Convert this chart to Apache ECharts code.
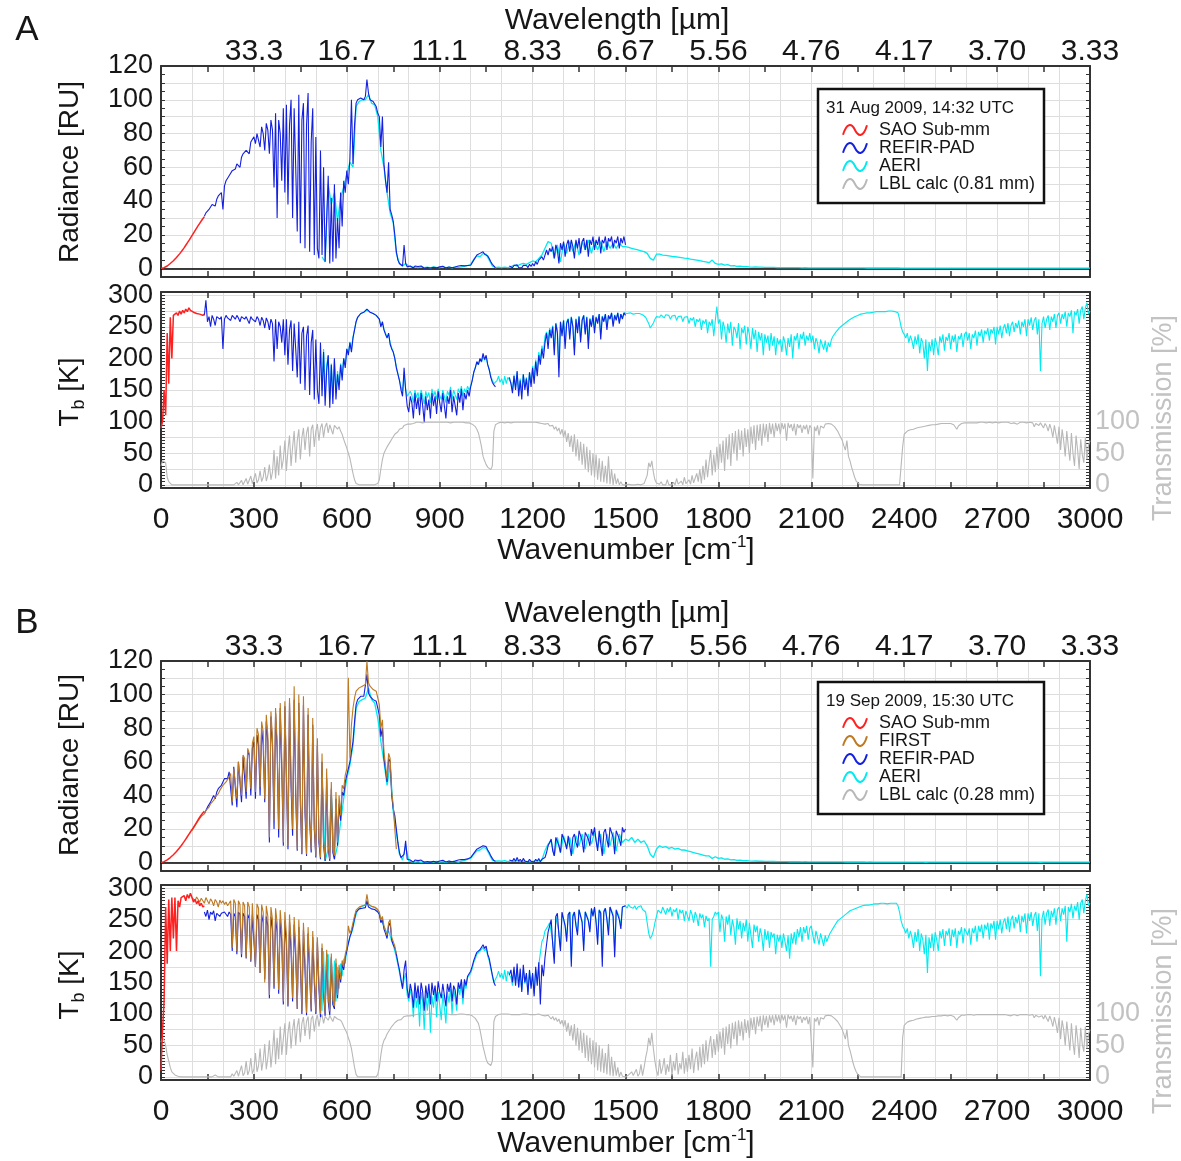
<!DOCTYPE html>
<html>
<head>
<meta charset="utf-8">
<title>Far-infrared spectra</title>
<script src="https://cdn.jsdelivr.net/npm/echarts@6/dist/echarts.min.js"></script>
<style>
  html, body { margin: 0; padding: 0; background: #fff; }
  #chart { width: 1181px; height: 1161px; }
</style>
</head>
<body>
<div id="chart"></div>
<script>
// ---------------------------------------------------------------------------
// Axis ticks
// ---------------------------------------------------------------------------
const wavenumberTicks = [0, 300, 600, 900, 1200, 1500, 1800, 2100, 2400, 2700, 3000];
const wavelengthTicks = ['33.3', '16.7', '11.1', '8.33', '6.67', '5.56', '4.76', '4.17', '3.70', '3.33']; // at 300..3000 cm-1
const radianceTicks = [0, 20, 40, 60, 80, 100, 120];
const tbTicks = [0, 50, 100, 150, 200, 250, 300];
const transTicks = [0, 50, 100];

// Sampling of the spectra (cm-1): first wavenumber and spacing of each array
const SAO_START = 0, SAO_STEP = 5;
const FIRST_START = 100, FIRST_STEP = 5;
const REFIR_START = 140, REFIR_STEP = 5;
const AERI_START = 520, AERI_TB_STEP = 5, AERI_RAD_STEP = 10;
const LBL_START = 0, LBL_STEP = 5;

// ---------------------------------------------------------------------------
// A: 31 Aug 2009, 14:32 UTC
// ---------------------------------------------------------------------------
const saoRadA = [0, 0.2, 0.5, 1, 1.5, 2.2, 3, 3.8, 4.6, 5.5, 6.5, 7.6, 8.7, 9.9, 11.1, 12.4, 13.8, 15.2, 16.6, 18, 19.5, 21, 22.5, 24, 25.4, 26.8, 28.2, 29.5, 30.8];
const refirRadA = [
  31, 33, 32, 35, 34, 38, 38, 37, 41, 43, 42, 45,
  35, 49, 52, 53, 55, 55, 58, 59, 59, 62, 62, 60, 66, 68, 67, 70, 71, 68, 75, 74,
  78, 74, 80, 79, 72, 84, 80, 70, 86, 82, 68, 88, 82, 48, 92, 30, 88, 80, 52, 95,
  45, 97, 38, 85, 100, 30, 95, 60, 22, 103, 15, 88, 98, 12, 85, 104, 10, 75, 95, 8,
  78, 12, 6, 70, 8, 60, 4, 30, 55, 3, 42, 4, 50, 6, 30, 12, 45, 25, 52, 45,
  58, 50, 65, 100, 62, 85, 98, 100, 100, 101, 101, 100, 102, 112, 104, 100, 99, 99, 98, 96,
  92, 90, 72, 90, 62, 52, 45, 63, 35, 32, 28, 20, 10, 5, 3, 2, 1.5, 14, 3, 1,
  1, 1.5, 1, 0.3, 1.5, 0.6, 1.2, 0.4, 1.5, 0.8, 0.2, 1.2, 0.6, 1, 0.3, 1.4, 0.8, 1.2, 0.4, 1.5,
  1, 0.5, 1.4, 0.8, 0.3, 1.2, 0.9, 1.6, 0.5, 1.2, 0.9, 0.5, 1.5, 1, 1.8, 0.8, 1.6, 1.3, 1.8, 1.6,
  2, 3, 5, 6, 8, 7, 9, 8, 10, 8.5, 9.5, 7.5, 6, 4, 2.5, 1.5, 0.5, null, null, null,
  null, null, null, null, null, 1.5, 1, 0.5, 1.8, 0.8, 2.2, 0.6, 1.5, 0.4, 2, 1, 1.8, 0.6, 2.5, 1.2,
  3, 1.5, 4, 2.5, 5, 4, 7, 5, 8, 11, 8, 12, 10, 13, 6, 14, 11, 3, 15, 11,
  16, 7, 14, 17, 10, 17, 13, 6, 17, 12, 18, 9, 16, 18, 11, 17, 7, 17, 14, 19,
  11, 17, 14, 19, 9, 17, 15, 19, 11, 18, 16, 19, 12, 17, 15, 19, 12, 18, 15, 19,
  14
];
const aeriRadA = [
  7, 4, 50, 38, 45, 28, 42, 48,
  56, 63, 60, 96, 99, 100, 100, 103, 98, 97,
  90, 70, 60, 45, 33, 27, 9, 3, 1.5, 3,
  1.5, 0.8, 1, 0.5, 1, 0.6, 0.9, 0.4, 1, 0.7,
  0.5, 1, 0.6, 0.9, 0.4, 1, 0.7, 1, 1.5, 1.8,
  2.5, 5.5, 7.5, 7, 9, 8.5, 5, 1.5, 0.5, 0.8,
  0.5, 0.8, 0.6, 1, 2, 1.5, 2.5, 3, 2.5, 3.5,
  4.5, 4, 6, 8, 12, 16, 15, 6, 14, 4,
  15, 9, 16, 10, 16, 8, 16, 11, 17, 9,
  16, 11, 16, 10, 16, 12, 15, 12, 15, 13,
  13, 12.5, 12, 11.5, 11, 10.5, 10, 9, 6, 5,
  8.5, 8.5, 8, 7.8, 7.5, 7.2, 7, 6.8, 6.5, 6.2,
  6, 5.6, 5.3, 5, 4.7, 4.3, 4, 3.5, 5, 3,
  2.5, 2.8, 2, 2.3, 1.6, 1.8, 1.3, 1.5, 1.1, 1.2,
  1, 0.9, 0.95, 0.8, 0.85, 0.7, 0.75, 0.65, 0.7, 0.6,
  0.6, 0.55, 0.6, 0.5, 0.55, 0.5, 0.5, 0.45, 0.5, 0.45,
  0.45, 0.42, 0.45, 0.4, 0.42, 0.4, 0.4, 0.38, 0.4, 0.38,
  0.38, 0.36, 0.38, 0.36, 0.35, 0.36, 0.35, 0.35, 0.34, 0.35,
  0.34, 0.34, 0.33, 0.34, 0.33, 0.33, 0.33, 0.32, 0.33, 0.3,
  0.28, 0.28, 0.27, 0.28, 0.26, 0.28, 0.26, 0.24, 0.27, 0.26,
  0.27, 0.26, 0.27, 0.25, 0.27, 0.26, 0.27, 0.26, 0.27, 0.26,
  0.27, 0.26, 0.27, 0.25, 0.27, 0.26, 0.27, 0.26, 0.27, 0.26,
  0.27, 0.26, 0.27, 0.26, 0.27, 0.26, 0.27, 0.26, 0.27, 0.26,
  0.27, 0.26, 0.27, 0.26, 0.22, 0.27, 0.26, 0.27, 0.26, 0.27,
  0.26, 0.27, 0.26, 0.27, 0.25, 0.27, 0.26, 0.27, 0.26, 0.28,
  0.27
];
const saoTbA = [90, 100, 150, 110, 240, 160, 265, 200, 268, 270, 272, 268, 275, 270, 276, 272, 278, 274, 280, 276, 278, 273, 275, 271, 274, 270, 272, 268, 270];
const refirTbA = [
  268, 292, 258, 266, 250, 268, 262, 252, 266, 268, 262, 266,
  215, 262, 268, 264, 266, 260, 268, 265, 262, 268, 264, 258, 266, 268, 262, 266, 264, 255, 266, 262,
  265, 258, 266, 262, 252, 265, 260, 248, 264, 258, 245, 262, 255, 195, 262, 215, 258, 250, 225, 262,
  205, 262, 190, 245, 260, 180, 255, 215, 170, 258, 160, 240, 250, 150, 235, 252, 142, 225, 245, 135,
  230, 150, 128, 225, 140, 210, 125, 180, 205, 122, 190, 128, 200, 135, 175, 150, 190, 165, 200, 185,
  215, 205, 225, 210, 232, 245, 258, 265, 268, 271, 272, 273, 274, 278, 276, 273, 272, 271, 270, 268,
  265, 262, 250, 258, 245, 238, 232, 240, 222, 215, 210, 200, 185, 175, 165, 150, 140, 185, 150, 125,
  115, 140, 130, 105, 145, 120, 138, 110, 145, 125, 100, 140, 118, 135, 105, 145, 125, 140, 112, 148,
  130, 115, 145, 125, 105, 140, 128, 150, 115, 140, 125, 110, 145, 130, 152, 118, 145, 135, 150, 140,
  155, 165, 178, 185, 195, 190, 200, 195, 208, 198, 205, 190, 182, 170, 162, 158, 155, null, null, null,
  null, null, null, null, null, 170, 160, 145, 172, 150, 180, 140, 165, 135, 175, 150, 168, 140, 178, 155,
  185, 160, 195, 172, 205, 190, 215, 200, 225, 240, 215, 245, 232, 250, 205, 255, 240, 170, 258, 235,
  260, 215, 255, 262, 230, 265, 250, 205, 262, 240, 266, 225, 260, 268, 238, 265, 215, 262, 250, 268,
  240, 265, 255, 270, 230, 266, 258, 270, 245, 268, 262, 272, 250, 268, 260, 272, 255, 270, 262, 272,
  268
];
const aeriTbA = [
  150, 215, 140, 190, 205, 135, 192, 140, 198, 145, 180, 160, 192, 175, 200, 190,
  215, 208, 226, 215, 234, 246, 258, 265, 268, 271, 272, 273, 273, 276, 275, 273, 272, 271, 270, 268,
  265, 262, 252, 256, 246, 240, 234, 238, 225, 217, 210, 200, 187, 176, 166, 155, 148, 175, 152, 140,
  138, 148, 142, 130, 150, 138, 146, 132, 150, 140, 128, 148, 138, 146, 130, 152, 140, 148, 135, 152,
  142, 135, 150, 140, 130, 148, 142, 155, 135, 150, 142, 135, 152, 145, 156, 140, 152, 146, 156, 150,
  157, 166, 178, 186, 194, 190, 198, 194, 204, 197, 202, 190, 182, 172, 165, 160, 158, 165, 172, 162,
  168, 158, 172, 160, 170, 168, 162, 150, 174, 155, 178, 148, 168, 145, 175, 155, 170, 150, 178, 162,
  188, 168, 198, 180, 210, 198, 220, 210, 235, 242, 228, 248, 240, 252, 215, 256, 245, 185, 258, 240,
  261, 225, 258, 263, 238, 266, 252, 215, 263, 245, 267, 232, 262, 268, 242, 266, 225, 264, 252, 268,
  248, 266, 258, 270, 238, 267, 260, 270, 250, 268, 263, 272, 255, 269, 262, 272, 258, 270, 264, 272,
  270, 271, 270, 272, 271, 270, 272, 271, 270, 271, 270, 269, 268, 265, 260, 255, 248, 250, 256, 262,
  266, 268, 265, 269, 267, 264, 269, 266, 268, 262, 267, 265, 268, 260, 266, 264, 267, 258, 265, 263,
  266, 255, 264, 260, 265, 250, 262, 258, 263, 245, 260, 255, 262, 240, 258, 252, 262, 235, 260, 282,
  255, 262, 230, 258, 248, 225, 255, 240, 258, 220, 250, 245, 232, 256, 215, 248, 240, 252, 222, 250,
  238, 215, 248, 230, 245, 210, 242, 228, 240, 205, 238, 225, 236, 212, 240, 220, 235, 205, 232, 222,
  230, 210, 235, 225, 205, 232, 218, 238, 200, 235, 228, 240, 215, 238, 230, 242, 220, 236, 228, 240,
  225, 236, 215, 232, 225, 208, 230, 222, 214, 228, 210, 225, 218, 230, 235, 238, 242, 245, 248, 250,
  252, 255, 256, 258, 260, 262, 263, 265, 266, 267, 268, 269, 270, 270, 271, 271, 272, 272, 272, 273,
  273, 273, 274, 273, 274, 274, 274, 275, 274, 275, 275, 274, 275, 276, 274, 275, 272, 262, 250, 242,
  238, 232, 240, 225, 236, 228, 215, 235, 222, 238, 208, 232, 225, 200, 230, 180, 226, 212, 230, 205,
  232, 222, 205, 235, 225, 238, 212, 234, 228, 240, 215, 236, 226, 238, 210, 235, 230, 240, 218, 238,
  242, 228, 240, 215, 238, 232, 244, 220, 242, 235, 246, 225, 244, 238, 248, 228, 246, 240, 250, 222,
  250, 238, 252, 232, 248, 254, 240, 256, 235, 252, 258, 242, 256, 248, 260, 238, 258, 250, 262, 235,
  262, 252, 265, 245, 260, 265, 238, 262, 180, 255, 266, 248, 262, 268, 245, 266, 258, 270, 248, 268,
  272, 255, 270, 262, 274, 250, 272, 266, 276, 240, 274, 268, 278, 255, 276, 282, 262, 280, 288, 270,
  275
];
const lblTransA = [
  30, 38, 40, 35, 12, 5, 2, 0, 0, 0, 0, 0, 0, 0, 0, 0, 0, 0, 0, 0,
  0, 0, 0, 0, 0, 0, 0, 0, 0, 0, 0, 0, 0, 0, 0, 0, 0, 0, 0, 0,
  0, 0, 0, 0, 0, 0, 2, 0, 0, 4, 0, 1, 7, 0, 2, 10, 1, 4, 14, 2,
  5, 18, 3, 8, 22, 5, 12, 28, 6, 15, 32, 8, 20, 55, 10, 45, 15, 62, 25, 40,
  70, 22, 55, 78, 30, 60, 85, 35, 70, 88, 40, 75, 90, 55, 82, 92, 45, 88, 95, 60,
  85, 96, 70, 90, 97, 75, 92, 98, 82, 95, 97, 80, 94, 96, 88, 92, 85, 80, 72, 65,
  58, 50, 42, 30, 18, 8, 2, 0, 0, 0, 0, 0, 0, 0, 0, 0, 0, 0, 0, 0,
  2, 8, 25, 40, 50, 55, 60, 64, 68, 72, 75, 80, 78, 84, 88, 86, 90, 94, 92, 96,
  97, 96, 98, 97, 98, 99, 98, 99, 99, 98, 99, 99, 98, 99, 99, 99, 98, 99, 99, 99,
  99, 99, 98, 99, 99, 99, 99, 98, 99, 99, 99, 99, 98, 99, 99, 99, 99, 98, 99, 98,
  97, 96, 94, 92, 88, 82, 72, 60, 45, 38, 32, 28, 26, 24, 30, 85, 95, 97, 98, 99,
  99, 99, 98, 99, 99, 99, 98, 99, 99, 99, 99, 98, 99, 99, 99, 98, 99, 99, 99, 99,
  99, 98, 99, 99, 98, 99, 97, 98, 96, 95, 97, 93, 90, 94, 88, 92, 85, 90, 80, 88,
  75, 86, 68, 82, 60, 78, 52, 80, 45, 72, 38, 68, 32, 65, 25, 60, 20, 55, 15, 50,
  12, 48, 8, 42, 5, 38, 4, 30, 2, 45, 1, 25, 0, 18, 1, 10, 0, 5, 0, 2,
  0, 0, 1, 0, 0, 2, 0, 0, 1, 0, 0, 0, 2, 5, 15, 35, 28, 38, 20, 8,
  3, 0, 1, 5, 0, 2, 0, 8, 0, 1, 0, 4, 0, 10, 1, 0, 6, 0, 12, 2,
  0, 8, 1, 15, 3, 0, 18, 5, 25, 2, 30, 8, 40, 12, 35, 55, 15, 48, 20, 60,
  25, 65, 35, 70, 22, 75, 40, 80, 30, 82, 50, 85, 38, 88, 55, 86, 45, 90, 60, 88,
  50, 92, 65, 94, 55, 95, 70, 96, 62, 97, 75, 96, 68, 98, 80, 97, 75, 98, 85, 97,
  80, 98, 88, 97, 70, 98, 90, 96, 85, 97, 78, 96, 90, 95, 82, 94, 88, 95, 80, 94,
  90, 10, 92, 85, 94, 78, 93, 95, 90, 96, 94, 97, 95, 96, 94, 92, 90, 85, 80, 75,
  70, 62, 55, 70, 45, 38, 28, 20, 12, 6, 3, 1, 0, 0, 0, 0, 0, 0, 0, 0,
  0, 0, 0, 0, 0, 0, 0, 0, 0, 0, 0, 0, 0, 0, 0, 0, 0, 0, 0, 60,
  80, 83, 85, 86, 87, 88, 88, 89, 90, 90, 91, 92, 92, 93, 93, 94, 94, 94, 95, 95,
  95, 96, 96, 96, 97, 97, 97, 97, 97, 96, 97, 96, 95, 92, 88, 93, 96, 97, 97, 98,
  98, 98, 98, 98, 99, 98, 99, 98, 99, 99, 98, 99, 99, 98, 99, 99, 99, 98, 99, 99,
  99, 98, 99, 99, 96, 99, 98, 99, 99, 97, 99, 98, 99, 96, 98, 99, 98, 99, 97, 98,
  98, 99, 96, 98, 92, 97, 98, 94, 98, 96, 90, 97, 93, 85, 96, 88, 75, 94, 80, 65,
  92, 55, 88, 70, 45, 85, 60, 38, 82, 50, 30, 78, 55, 25, 72, 48, 35, 75, 40, 62,
  70
];

// ---------------------------------------------------------------------------
// B: 19 Sep 2009, 15:30 UTC
// ---------------------------------------------------------------------------
const saoRadB = [0, 0.2, 0.6, 1, 1.6, 2.3, 3, 3.8, 4.7, 5.6, 6.6, 7.7, 8.8, 10, 11.3, 12.6, 14, 15.4, 16.8, 18.2, 19.6, 21, 22.5, 24, 25.5, 27, 28.3, 29.5, 30.5];
const firstRadB = [
  19, 20.5, 22, 23.5, 25, 26, 27.5, 28.5, 29, 31, 32, 33, 35, 36, 37, 39, 40, 41, 43, 44,
  46, 47, 48, 49, 51, 53, 36, 56, 55, 38, 60, 59, 40, 64, 62, 42, 68, 65, 44, 71,
  75, 42, 80, 76, 45, 84, 78, 38, 88, 76, 15, 90, 74, 25, 92, 72, 20, 95, 62, 12,
  96, 55, 10, 98, 50, 20, 105, 45, 8, 100, 40, 6, 99, 35, 5, 92, 28, 8, 86, 22,
  4, 74, 15, 3, 65, 12, 2, 56, 10, 2, 48, 8, 4, 42, 12, 40, 28, 46, 44, 52,
  56, 110, 62, 82, 92, 98, 102, 103, 104, 104, 105, 105, 106, 120, 107, 105, 104, 103, 103, 102,
  98, 94, 80, 85, 66, 58, 50, 65, 62, 42, 34, 20, 8
];
const refirRadB = [
  29, 31, 33, 34, 36, 38, 40, 38, 42, 44, 43, 46,
  48, 50, 51, 50, 54, 55, 34, 57, 56, 33, 60, 60, 36, 63, 62, 38, 66, 64, 40, 68,
  72, 38, 76, 70, 40, 80, 70, 36, 84, 72, 12, 87, 70, 20, 89, 68, 15, 92, 55, 10,
  93, 50, 8, 95, 45, 16, 97, 40, 7, 95, 35, 5, 94, 30, 4, 88, 25, 6, 82, 20,
  3, 70, 12, 2, 60, 10, 1, 50, 8, 1, 44, 6, 2, 38, 10, 35, 25, 42, 40, 48,
  52, 56, 60, 66, 72, 84, 94, 97, 98, 99, 99, 99, 100, 112, 101, 99, 98, 97, 97, 96,
  92, 88, 75, 80, 62, 55, 48, 62, 60, 40, 32, 28, 20, 12, 6, 3, 2, 5, 13, 2,
  1, 1.5, 1, 0.3, 1.5, 0.6, 1.2, 0.4, 1.5, 0.8, 0.2, 1.2, 0.6, 1, 0.3, 1.4, 0.8, 1.2, 0.4, 1.5,
  1, 0.5, 1.4, 0.8, 0.3, 1.2, 0.9, 1.6, 0.5, 1.2, 0.9, 0.5, 1.5, 1, 1.8, 0.8, 1.8, 1.5, 2.2, 2.5,
  3, 4, 5.5, 6.5, 8, 7.5, 9, 8.5, 10, 9, 9.5, 7.5, 6, 4, 2.5, 1.2, 0.8, null, null, null,
  null, null, null, null, null, 1.5, 2, 1, 2.5, 0.8, 3, 0.8, 2, 0.5, 2.5, 1, 1.5, 0.4, 2, 0.8,
  1.5, 0.4, 2, 0.8, 2.5, 0.3, 2, 1.2, 3, 6, 10, 12, 14, 7, 4, 15, 16, 10, 6, 17,
  18, 12, 8, 16, 17, 4, 15, 17, 12, 9, 19, 20, 13, 6, 18, 19, 14, 10, 20, 16,
  21, 13, 7, 19, 18, 4, 18, 20, 14, 9, 21, 22, 15, 5, 19, 20, 14, 10, 21, 18,
  20
];
const aeriRadB = [
  55, 1, 8, 40, 2, 10, 24, 38,
  50, 58, 70, 92, 96, 97, 98, 104, 97, 95,
  86, 72, 60, 46, 58, 30, 18, 5, 1.5, 10,
  1, 0.5, 0.3, 0.6, 0.2, 0.5, 0.1, 0.6, 0.3, 0.7,
  0.3, 0.6, 0.2, 0.7, 0.4, 0.8, 0.3, 0.9, 1.2, 2,
  2.5, 5, 7, 7.5, 9, 8.5, 5, 1.5, 0.8, 1,
  0.8, 1.2, 0.6, 1, 0.8, 1.2, 0.6, 1, 0.5, 0.8,
  0.6, 1.2, 1, 1.5, 7, 11, 13, 4, 15, 6,
  16, 9, 15, 5, 16, 10, 17, 8, 17, 11,
  18, 9, 17, 5, 17, 10, 18, 7, 17, 12,
  14, 13, 15, 12, 14, 12, 13, 10, 5, 3,
  8, 10, 9, 9.5, 8.5, 9, 8, 8.5, 7.5, 7.5,
  7, 6.5, 6, 5.5, 5, 4.5, 4, 4, 2.5, 3.5,
  2.5, 2.8, 2, 2.2, 1.6, 1.8, 1.3, 1.5, 1.1, 1.2,
  1, 0.9, 0.95, 0.8, 0.85, 0.7, 0.75, 0.65, 0.7, 0.6,
  0.6, 0.55, 0.6, 0.5, 0.55, 0.5, 0.5, 0.45, 0.5, 0.45,
  0.45, 0.42, 0.45, 0.4, 0.42, 0.4, 0.4, 0.38, 0.4, 0.38,
  0.38, 0.36, 0.38, 0.36, 0.35, 0.36, 0.35, 0.35, 0.34, 0.35,
  0.34, 0.34, 0.33, 0.34, 0.33, 0.33, 0.33, 0.32, 0.33, 0.3,
  0.28, 0.28, 0.27, 0.28, 0.25, 0.28, 0.25, 0.22, 0.27, 0.25,
  0.27, 0.26, 0.27, 0.25, 0.27, 0.26, 0.27, 0.26, 0.27, 0.26,
  0.27, 0.26, 0.27, 0.25, 0.27, 0.26, 0.27, 0.26, 0.27, 0.26,
  0.27, 0.26, 0.27, 0.26, 0.27, 0.26, 0.27, 0.26, 0.27, 0.26,
  0.27, 0.26, 0.27, 0.26, 0.21, 0.27, 0.26, 0.27, 0.26, 0.27,
  0.26, 0.27, 0.26, 0.27, 0.24, 0.27, 0.26, 0.27, 0.26, 0.28,
  0.27
];
const saoTbB = [10, 75, 120, 270, 180, 282, 200, 285, 220, 285, 200, 280, 270, 285, 282, 288, 280, 290, 284, 292, 285, 278, 282, 275, 280, 272, 276, 270, 272];
const firstTbB = [
  285, 282, 280, 286, 283, 278, 284, 281, 276, 285, 280, 275, 283, 279, 272, 282, 278, 270, 281, 276,
  280, 274, 278, 272, 276, 280, 205, 282, 276, 200, 280, 274, 195, 278, 272, 190, 278, 270, 185, 276,
  278, 175, 275, 268, 165, 274, 262, 150, 272, 255, 130, 270, 250, 145, 268, 245, 138, 265, 232, 120,
  262, 225, 115, 258, 215, 125, 254, 205, 108, 250, 195, 105, 245, 185, 102, 238, 175, 108, 232, 165,
  103, 222, 150, 100, 212, 140, 102, 202, 130, 104, 196, 122, 112, 188, 130, 178, 155, 185, 175, 195,
  205, 240, 228, 234, 245, 256, 265, 268, 270, 271, 272, 272, 273, 290, 275, 272, 271, 270, 270, 268,
  266, 262, 250, 255, 240, 232, 225, 245, 250, 222, 215, 208, 195
];
const refirTbB = [
  262, 255, 265, 250, 262, 258, 264, 248, 260, 262, 255, 260,
  258, 262, 260, 255, 262, 258, 200, 260, 255, 195, 262, 258, 190, 260, 255, 188, 258, 252, 183, 258,
  260, 175, 258, 250, 165, 258, 245, 155, 255, 240, 125, 255, 235, 140, 252, 230, 132, 250, 215, 115,
  248, 210, 112, 246, 200, 120, 242, 190, 108, 238, 180, 100, 234, 170, 98, 228, 160, 104, 222, 150,
  100, 214, 140, 95, 205, 130, 97, 196, 120, 98, 190, 115, 108, 180, 125, 170, 150, 180, 170, 190,
  200, 212, 222, 230, 240, 252, 262, 265, 267, 268, 268, 268, 269, 280, 270, 268, 267, 266, 266, 264,
  262, 258, 245, 250, 235, 228, 220, 240, 245, 218, 210, 205, 195, 182, 170, 155, 140, 170, 185, 140,
  125, 148, 135, 110, 150, 125, 145, 115, 150, 135, 105, 145, 125, 148, 115, 150, 130, 145, 120, 152,
  135, 125, 148, 130, 112, 148, 135, 150, 120, 145, 138, 115, 150, 140, 155, 125, 155, 145, 160, 160,
  168, 176, 185, 192, 198, 196, 202, 200, 210, 204, 208, 195, 188, 175, 162, 150, 145, null, null, null,
  null, null, null, null, null, 162, 170, 150, 175, 145, 180, 142, 172, 135, 178, 150, 165, 130, 170, 140,
  165, 128, 175, 145, 182, 115, 178, 160, 190, 210, 230, 240, 250, 210, 180, 255, 260, 225, 200, 262,
  265, 240, 215, 258, 262, 175, 255, 262, 240, 225, 266, 268, 245, 200, 262, 265, 248, 230, 268, 255,
  270, 245, 210, 265, 260, 175, 262, 268, 250, 225, 270, 272, 255, 190, 265, 268, 250, 235, 270, 268,
  272
];
const aeriTbB = [
  105, 200, 110, 190, 195, 108, 188, 115, 185, 120, 175, 140, 180, 160, 188, 180,
  205, 212, 224, 228, 236, 248, 258, 265, 267, 270, 271, 272, 272, 276, 274, 272, 271, 270, 269, 268,
  265, 260, 250, 252, 240, 234, 228, 232, 224, 215, 210, 200, 190, 178, 166, 152, 142, 155, 165, 130,
  120, 140, 125, 95, 138, 110, 130, 80, 135, 120, 75, 130, 105, 135, 70, 128, 110, 138, 95, 135,
  115, 90, 132, 110, 85, 135, 118, 140, 100, 140, 125, 105, 145, 130, 150, 115, 150, 140, 158, 155,
  165, 172, 182, 188, 195, 192, 200, 198, 206, 200, 204, 192, 184, 172, 160, 150, 148, 160, 168, 158,
  165, 155, 170, 152, 168, 162, 158, 145, 170, 150, 172, 142, 165, 138, 170, 148, 162, 135, 168, 145,
  162, 132, 170, 150, 178, 175, 215, 220, 232, 236, 240, 245, 248, 215, 190, 255, 258, 230, 205, 260,
  262, 242, 220, 258, 262, 185, 258, 262, 244, 230, 265, 267, 248, 210, 263, 265, 250, 235, 267, 258,
  268, 248, 220, 266, 262, 190, 264, 268, 252, 232, 270, 272, 258, 200, 266, 268, 254, 240, 270, 270,
  272, 268, 274, 270, 273, 268, 272, 266, 270, 268, 272, 266, 268, 262, 245, 228, 220, 224, 232, 245,
  255, 265, 268, 260, 270, 264, 258, 268, 262, 270, 255, 266, 262, 268, 250, 266, 260, 265, 248, 264,
  262, 248, 265, 258, 245, 262, 255, 240, 260, 252, 258, 238, 256, 248, 252, 175, 250, 255, 262, 258,
  262, 230, 258, 250, 215, 255, 242, 258, 225, 250, 238, 210, 252, 235, 248, 220, 245, 232, 250, 215,
  245, 225, 205, 242, 230, 240, 215, 236, 225, 200, 235, 218, 232, 205, 230, 222, 228, 195, 226, 215,
  226, 205, 228, 215, 200, 225, 188, 228, 212, 230, 210, 235, 222, 238, 215, 238, 228, 240, 218, 236,
  240, 225, 212, 232, 222, 210, 228, 218, 208, 225, 215, 222, 228, 232, 236, 240, 244, 248, 250, 252,
  254, 256, 258, 260, 262, 264, 265, 266, 267, 268, 269, 270, 271, 272, 272, 273, 273, 273, 274, 274,
  274, 275, 274, 275, 275, 276, 275, 276, 276, 275, 276, 276, 275, 276, 274, 276, 272, 262, 248, 240,
  235, 228, 236, 220, 232, 222, 205, 230, 215, 235, 200, 228, 218, 195, 226, 165, 222, 205, 228, 200,
  230, 218, 200, 232, 220, 235, 208, 232, 225, 236, 208, 234, 222, 236, 205, 232, 226, 238, 212, 236,
  238, 225, 236, 210, 236, 228, 240, 215, 240, 230, 242, 220, 242, 234, 245, 218, 244, 236, 248, 218,
  248, 235, 250, 228, 246, 252, 235, 255, 230, 250, 256, 236, 254, 244, 258, 230, 256, 246, 260, 228,
  260, 248, 262, 240, 256, 262, 232, 260, 160, 252, 264, 242, 260, 266, 240, 264, 254, 268, 242, 266,
  270, 248, 268, 258, 272, 215, 270, 262, 275, 252, 272, 264, 278, 250, 276, 282, 260, 280, 290, 272,
  276
];
const lblTransB = [
  55, 62, 58, 50, 35, 25, 15, 8, 5, 3, 2, 1, 0, 0, 0, 0, 0, 0, 0, 0,
  0, 0, 0, 0, 0, 0, 0, 0, 0, 0, 2, 0, 0, 0, 0, 3, 0, 0, 0, 0,
  0, 0, 1, 0, 3, 0, 5, 1, 2, 10, 1, 4, 18, 2, 6, 25, 3, 10, 30, 5,
  12, 38, 8, 18, 45, 10, 25, 52, 12, 30, 58, 15, 40, 75, 20, 62, 28, 80, 35, 60,
  85, 35, 70, 88, 45, 75, 92, 50, 80, 93, 55, 85, 95, 65, 88, 96, 60, 92, 97, 72,
  90, 98, 80, 94, 99, 85, 96, 99, 90, 97, 98, 88, 96, 97, 92, 95, 90, 86, 80, 75,
  70, 62, 55, 45, 30, 15, 4, 0, 0, 0, 0, 0, 0, 0, 0, 0, 0, 0, 0, 0,
  4, 15, 35, 50, 58, 62, 68, 72, 75, 80, 82, 86, 85, 90, 92, 91, 94, 96, 95, 97,
  98, 97, 99, 98, 99, 99, 99, 100, 99, 99, 100, 99, 99, 100, 99, 100, 99, 99, 100, 99,
  100, 99, 99, 100, 99, 100, 99, 99, 100, 99, 100, 99, 99, 100, 99, 100, 99, 99, 100, 99,
  98, 97, 95, 93, 90, 85, 75, 62, 48, 38, 28, 22, 20, 18, 25, 88, 96, 98, 99, 99,
  100, 99, 100, 99, 100, 99, 99, 100, 99, 100, 99, 100, 99, 99, 100, 99, 100, 99, 99, 100,
  99, 100, 99, 99, 100, 99, 98, 99, 97, 96, 98, 95, 92, 96, 90, 94, 88, 92, 84, 90,
  80, 90, 72, 86, 65, 82, 58, 84, 50, 78, 42, 74, 38, 70, 30, 66, 25, 62, 20, 58,
  15, 55, 10, 50, 8, 45, 6, 38, 4, 52, 2, 32, 1, 25, 2, 15, 0, 8, 1, 4,
  0, 1, 3, 0, 8, 2, 0, 12, 1, 5, 20, 2, 15, 30, 42, 62, 50, 70, 45, 25,
  10, 2, 28, 5, 15, 30, 3, 20, 8, 35, 2, 25, 10, 38, 4, 22, 12, 40, 5, 30,
  8, 35, 12, 45, 6, 28, 40, 10, 48, 15, 52, 20, 58, 25, 50, 65, 30, 60, 35, 68,
  40, 72, 45, 78, 35, 80, 52, 84, 45, 86, 60, 88, 50, 90, 65, 88, 58, 92, 70, 90,
  62, 94, 75, 95, 68, 96, 80, 97, 72, 98, 82, 97, 78, 98, 86, 98, 82, 99, 88, 98,
  85, 99, 90, 98, 78, 99, 92, 97, 88, 98, 82, 97, 92, 96, 86, 95, 90, 96, 84, 95,
  92, 15, 93, 88, 95, 82, 94, 96, 92, 97, 95, 98, 96, 97, 95, 93, 92, 88, 84, 80,
  75, 68, 60, 75, 50, 42, 32, 22, 14, 8, 4, 1, 0, 0, 0, 0, 0, 0, 0, 0,
  0, 0, 0, 0, 0, 0, 0, 0, 0, 0, 0, 0, 0, 0, 0, 0, 0, 0, 0, 62,
  82, 85, 87, 88, 89, 90, 90, 91, 92, 92, 93, 93, 94, 94, 95, 95, 95, 96, 96, 96,
  96, 97, 97, 97, 97, 98, 98, 98, 97, 97, 98, 97, 96, 93, 90, 94, 97, 98, 98, 98,
  98, 99, 98, 99, 99, 98, 99, 99, 98, 99, 99, 99, 98, 99, 99, 99, 98, 99, 99, 99,
  99, 99, 98, 99, 97, 99, 99, 98, 99, 97, 99, 99, 98, 97, 99, 99, 98, 99, 97, 99,
  99, 98, 97, 99, 94, 98, 99, 95, 98, 97, 92, 98, 95, 88, 97, 90, 80, 95, 84, 70,
  94, 60, 90, 75, 50, 88, 65, 42, 85, 55, 35, 82, 60, 30, 78, 52, 40, 80, 45, 68,
  75
];

// ---------------------------------------------------------------------------
// Styling
// ---------------------------------------------------------------------------
const FONT = '"Liberation Sans", Arial, Helvetica, sans-serif';
const INK = '#161616';
const FRAME = '#333333';
const GRID_LINE = '#dedede';
const TRANS_GRAY = '#c2c2c2';
const COLORS = {
  sao: '#ff2020',
  first: '#bd7a22',
  refir: '#1420e0',
  aeri: '#00eaf0',
  lbl: '#b8b8b8'
};

// plot boxes: radiance / brightness temperature, for A and B
const BOXES = [
  { top: 66, height: 211, kind: 'rad' },
  { top: 292, height: 196, kind: 'tb' },
  { top: 661, height: 210, kind: 'rad' },
  { top: 885, height: 195, kind: 'tb' }
];
const PLOT_LEFT = 161, PLOT_RIGHT = 91;

const topLabelOf = {};
wavenumberTicks.slice(1).forEach((w, i) => { topLabelOf[w] = wavelengthTicks[i]; });

const grid = [], xAxis = [], yAxis = [];
const axisRefs = [];

BOXES.forEach((b, gi) => {
  const isRad = b.kind === 'rad';
  grid.push({ left: PLOT_LEFT, right: PLOT_RIGHT, top: b.top, height: b.height });

  const yLeft = yAxis.length;
  const yTickVals = isRad ? radianceTicks : tbTicks;
  yAxis.push({
    gridIndex: gi, type: 'value', position: 'left',
    min: -5, max: isRad ? 120 : 305, interval: 5,
    axisLine: { show: true, onZero: false, lineStyle: { color: FRAME, width: 2 } },
    axisTick: { show: true, inside: true, length: 4, lineStyle: { color: FRAME, width: 1 } },
    axisLabel: {
      margin: 8, fontSize: 27, color: INK, fontFamily: FONT,
      formatter: v => (yTickVals.includes(v) ? String(v) : '')
    },
    splitLine: {
      show: true,
      lineStyle: {
        width: 1,
        color: isRad ? ['transparent', GRID_LINE]
                     : ['transparent', GRID_LINE, 'transparent', 'transparent', 'transparent']
      }
    }
  });
  yAxis.push({
    gridIndex: gi, type: 'value', position: 'right',
    min: -5, max: isRad ? 120 : 305, interval: 5,
    axisLine: { show: true, onZero: false, lineStyle: { color: FRAME, width: 2 } },
    axisTick: { show: true, inside: true, length: 4, lineStyle: { color: FRAME, width: 1 } },
    axisLabel: isRad ? { show: false } : {
      margin: 5, fontSize: 27, color: TRANS_GRAY, fontFamily: FONT,
      formatter: v => (transTicks.includes(v) ? String(v) : '')
    },
    splitLine: { show: false }
  });

  const xData = xAxis.length;
  xAxis.push({
    gridIndex: gi, type: 'value', position: 'bottom', min: 0, max: 3000, interval: 150,
    axisLine: { show: true, onZero: false, lineStyle: { color: FRAME, width: 2 } },
    axisTick: { show: true, inside: true, length: 6, lineStyle: { color: FRAME, width: 1.5 } },
    axisLabel: isRad ? { show: false } : {
      margin: 17, fontSize: 30, color: INK, fontFamily: FONT,
      formatter: v => (wavenumberTicks.includes(v) ? String(v) : '')
    },
    splitLine: { show: false }
  });
  xAxis.push({
    gridIndex: gi, type: 'value', position: 'top', min: 0, max: 3000, interval: 150,
    axisLine: { show: true, onZero: false, lineStyle: { color: FRAME, width: 2 } },
    axisTick: { show: true, inside: true, length: 6, lineStyle: { color: FRAME, width: 1.5 } },
    axisLabel: !isRad ? { show: false } : {
      margin: -1, fontSize: 30, color: INK, fontFamily: FONT,
      formatter: v => topLabelOf[v] || ''
    },
    splitLine: { show: false }
  });
  // light vertical grid every 100 cm-1
  xAxis.push({
    gridIndex: gi, type: 'value', position: 'bottom', min: 0, max: 3000, interval: 100,
    axisLine: { show: false, onZero: false }, axisTick: { show: false }, axisLabel: { show: false },
    splitLine: { show: true, lineStyle: { color: GRID_LINE, width: 1 } }
  });
  if (isRad) {
    // black zero-radiance line
    xAxis.push({
      gridIndex: gi, type: 'value', position: 'bottom', min: 0, max: 3000,
      axisLine: { show: true, onZero: true, onZeroAxisIndex: yLeft, lineStyle: { color: '#000', width: 1.5 } },
      axisTick: { show: false }, axisLabel: { show: false }, splitLine: { show: false }
    });
  }
  axisRefs.push({ x: xData, y: yLeft });
});

function spectrum(name, color, start, step, values, box, z, width) {
  return {
    type: 'line', name, silent: true, showSymbol: false, symbol: 'none',
    xAxisIndex: axisRefs[box].x, yAxisIndex: axisRefs[box].y,
    data: values.map((v, i) => [start + i * step, v]),
    connectNulls: false, z,
    lineStyle: { color, width: width || 1.1 },
    itemStyle: { color },
    emphasis: { disabled: true }
  };
}

const series = [
  // A radiance
  spectrum('AERI', COLORS.aeri, AERI_START, AERI_RAD_STEP, aeriRadA, 0, 3, 1.3),
  spectrum('REFIR-PAD', COLORS.refir, REFIR_START, REFIR_STEP, refirRadA, 0, 4),
  spectrum('SAO Sub-mm', COLORS.sao, SAO_START, SAO_STEP, saoRadA, 0, 6, 1.5),
  // A brightness temperature + transmission
  spectrum('LBL calc (0.81 mm)', COLORS.lbl, LBL_START, LBL_STEP, lblTransA, 1, 2),
  spectrum('AERI', COLORS.aeri, AERI_START, AERI_TB_STEP, aeriTbA, 1, 3),
  spectrum('REFIR-PAD', COLORS.refir, REFIR_START, REFIR_STEP, refirTbA, 1, 4),
  spectrum('SAO Sub-mm', COLORS.sao, SAO_START, SAO_STEP, saoTbA, 1, 6, 1.5),
  // B radiance
  spectrum('AERI', COLORS.aeri, AERI_START, AERI_RAD_STEP, aeriRadB, 2, 3, 1.3),
  spectrum('REFIR-PAD', COLORS.refir, REFIR_START, REFIR_STEP, refirRadB, 2, 4),
  spectrum('FIRST', COLORS.first, FIRST_START, FIRST_STEP, firstRadB, 2, 5),
  spectrum('SAO Sub-mm', COLORS.sao, SAO_START, SAO_STEP, saoRadB, 2, 6, 1.5),
  // B brightness temperature + transmission
  spectrum('LBL calc (0.28 mm)', COLORS.lbl, LBL_START, LBL_STEP, lblTransB, 3, 2),
  spectrum('AERI', COLORS.aeri, AERI_START, AERI_TB_STEP, aeriTbB, 3, 3),
  spectrum('REFIR-PAD', COLORS.refir, REFIR_START, REFIR_STEP, refirTbB, 3, 4),
  spectrum('FIRST', COLORS.first, FIRST_START, FIRST_STEP, firstTbB, 3, 5),
  spectrum('SAO Sub-mm', COLORS.sao, SAO_START, SAO_STEP, saoTbB, 3, 6, 1.5)
];

// wave-shaped legend key
const WAVE = 'path://M0,11 C3,1 7,1 10,7 C13,13 17,13 20,3';
function legendItem(name, color) {
  return { name, icon: WAVE, itemStyle: { color: 'rgba(0,0,0,0)', borderColor: color, borderWidth: 2 } };
}
const legendText = { fontSize: 18, fontFamily: FONT, color: INK, lineHeight: 18, padding: [0, 0, 0, 7] };
const legendBase = {
  orient: 'vertical', left: 842, padding: 0, itemGap: 0, z: 20, zlevel: 0,
  itemWidth: 24, itemHeight: 14, selectedMode: false, textStyle: legendText
};
const legend = [
  Object.assign({}, legendBase, {
    top: 121,
    data: [
      legendItem('SAO Sub-mm', COLORS.sao),
      legendItem('REFIR-PAD', COLORS.refir),
      legendItem('AERI', COLORS.aeri),
      legendItem('LBL calc (0.81 mm)', COLORS.lbl)
    ]
  }),
  Object.assign({}, legendBase, {
    top: 714,
    data: [
      legendItem('SAO Sub-mm', COLORS.sao),
      legendItem('FIRST', COLORS.first),
      legendItem('REFIR-PAD', COLORS.refir),
      legendItem('AERI', COLORS.aeri),
      legendItem('LBL calc (0.28 mm)', COLORS.lbl)
    ]
  })
];

function label(text, x, y, size, opts) {
  return Object.assign({
    type: 'text', x, y, z: 30,
    style: Object.assign({
      text, fontSize: size, fontFamily: FONT, fill: INK,
      align: 'center', verticalAlign: 'middle'
    }, (opts && opts.style) || {})
  }, (opts && opts.el) || {});
}

const SUP = { fontSize: 17, verticalAlign: 'top', lineHeight: 16, fontFamily: FONT, fill: INK };
const SUB = { fontSize: 18, verticalAlign: 'bottom', lineHeight: 18, fontFamily: FONT, fill: INK };

function panelDecor(dy, tag, stamp, boxH) {
  return [
    label(tag, 27, 30 + dy, 35),
    label('Wavelength [µm]', 617, 21 + dy, 30),
    label('Wavenumber [cm{sup|-1}]', 626, 551 + dy, 30, { style: { rich: { sup: SUP }, lineHeight: 34 } }),
    label('Radiance [RU]', 70, 172 + dy, 28, { el: { rotation: Math.PI / 2 } }),
    label('T{sub|b} [K]', 70, 392 + dy, 28, { el: { rotation: Math.PI / 2 }, style: { rich: { sub: SUB }, lineHeight: 36 } }),
    label('Transmission [%]', 1164, 418 + dy, 27, { el: { rotation: Math.PI / 2 }, style: { fill: TRANS_GRAY } }),
    {
      type: 'rect', z: 8,
      shape: { x: 818, y: 89 + dy, width: 226, height: boxH },
      style: { fill: '#fff', stroke: '#111', lineWidth: 2.5 }
    },
    label(stamp, 826, 108 + dy, 17, { style: { align: 'left' } })
  ];
}

const graphic = {
  z: 8,
  elements: [].concat(
    panelDecor(0, 'A', '31 Aug 2009, 14:32 UTC', 114),
    panelDecor(593, 'B', '19 Sep 2009, 15:30 UTC', 132)
  )
};

const chart = echarts.init(document.getElementById('chart'), null, { renderer: 'canvas' });
chart.setOption({
  animation: false,
  backgroundColor: '#fff',
  textStyle: { fontFamily: FONT },
  grid, xAxis, yAxis, series, legend, graphic
});
</script>
</body>
</html>
